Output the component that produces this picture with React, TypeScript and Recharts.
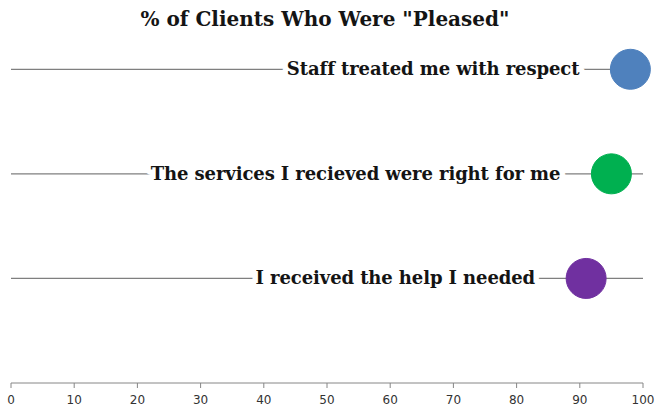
import React from 'react';
import { ScatterChart, Scatter, XAxis, YAxis, ReferenceLine, Cell } from 'recharts';

const categories = [
  'Staff treated me with respect',
  'The services I recieved were right for me',
  'I received the help I needed',
];
const pleasedPct = [98, 95, 91];
const rowPositions = [3, 2, 1];
const xTicks = [0, 10, 20, 30, 40, 50, 60, 70, 80, 90, 100];
const markerColors = ['#4F81BD', '#00B050', '#7030A0'];

const data = categories.map((label, i) => ({ label, x: pleasedPct[i], y: rowPositions[i] }));

const LABEL_FONT = "'DejaVu Serif', 'Liberation Serif', serif";

const Dot = (props: any) => {
  const { cx, cy, payload, fill } = props;
  if (cx == null || cy == null) return null;
  const tx = cx - 51;
  const ty = cy + 6;
  const common = {
    x: tx, y: ty, textAnchor: 'end' as const, fontFamily: LABEL_FONT, fontWeight: 'bold', fontSize: 18,
    letterSpacing: -0.1,
  };
  return (
    <g>
      <text {...common} fill="#fff" stroke="#fff" strokeWidth={11} strokeLinejoin="round">{payload.label}</text>
      <text {...common} fill="#141414">{payload.label}</text>
      <circle cx={cx} cy={cy} r={20} fill={fill} stroke={fill} strokeWidth={1} />
    </g>
  );
};

export default function App() {
  return (
    <div style={{ position: 'absolute', left: 0, top: 0, width: 656, height: 411, background: '#fff' }}>
      <div style={{ position: 'absolute', left: 0, top: 9, width: 650, textAlign: 'center', fontFamily: LABEL_FONT,
        fontWeight: 'bold', fontSize: 20, lineHeight: '21px', letterSpacing: 0, color: '#141414', zIndex: 2 }}>
        % of Clients Who Were "Pleased"
      </div>
      <ScatterChart width={656} height={411} margin={{ top: 17, right: 13, bottom: 0, left: 11 }}>
        <XAxis type="number" dataKey="x" domain={[0, 100]} ticks={xTicks} interval={0}
          axisLine={{ stroke: '#868686' }} tickLine={{ stroke: '#868686' }} tickSize={5} tickMargin={7}
          height={28} tick={{ fontSize: 12, fill: '#333', fontFamily: "'DejaVu Sans', sans-serif" }} />
        <YAxis type="number" dataKey="y" domain={[0, 3.5]} hide />
        {rowPositions.map((r) => (
          <ReferenceLine key={r} segment={[{ x: 0, y: r }, { x: 100, y: r }]} stroke="#7f7f7f" strokeWidth={1.2} />
        ))}
        <Scatter data={data} shape={<Dot />} isAnimationActive={false}>
          {data.map((d, i) => (
            <Cell key={d.label} fill={markerColors[i]} />
          ))}
        </Scatter>
      </ScatterChart>
    </div>
  );
}
